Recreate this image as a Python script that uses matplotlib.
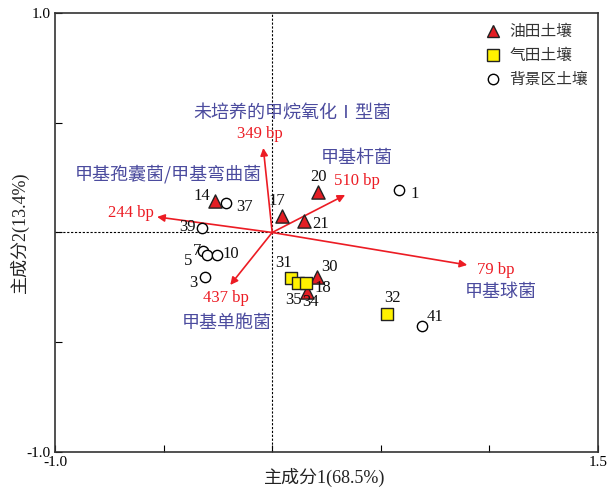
import matplotlib
matplotlib.use('Agg')
import matplotlib.pyplot as plt
from matplotlib.lines import Line2D

plt.rcParams['font.family'] = ['Liberation Serif', 'Noto Sans CJK SC']
plt.rcParams['axes.unicode_minus'] = False

# sample scores (PC1, PC2)
oil_ids = ['14', '17', '20', '21', '30', '34']
oil_x = [-0.262, 0.046, 0.212, 0.147, 0.207, 0.161]
oil_y = [0.144, 0.075, 0.185, 0.052, -0.203, -0.271]

gas_ids = ['31', '35', '18', '32']
gas_x = [0.087, 0.120, 0.157, 0.529]
gas_y = [-0.207, -0.230, -0.230, -0.371]

bg_ids = ['1', '37', '39', '5', '7', '10', '3', '41']
bg_x = [0.585, -0.212, -0.322, -0.318, -0.299, -0.253, -0.308, 0.691]
bg_y = [0.194, 0.134, 0.020, -0.084, -0.103, -0.103, -0.203, -0.426]

# T-RFLP fragment loadings
frag_names = ['349 bp', '244 bp', '510 bp', '79 bp', '437 bp']
frag_x = [-0.041, -0.530, 0.336, 0.898, -0.193]
frag_y = [0.385, 0.071, 0.171, -0.148, -0.239]
frag_taxa = ['未培养的甲烷氧化Ⅰ型菌', '甲基孢囊菌/甲基弯曲菌', '甲基杆菌', '甲基球菌', '甲基单胞菌']

legend_names = ['油田土壤', '气田土壤', '背景区土壤']

# label offsets in pixels (dx, dy)
id_offsets = {
    '14': (-13, 5), '37': (18, -4), '17': (-5, 15), '20': (0, 15), '21': (16, -3),
    '1': (15, -4), '39': (-15, 1), '7': (-10, 4), '5': (-15, -10), '10': (14, 1),
    '3': (-12, -6), '31': (-8, 15), '35': (-5, -17), '18': (17, -5), '30': (12, 10),
    '34': (3, -10), '32': (5, 16), '41': (13, 9),
}
frag_label_offsets = {
    '349 bp': (-3, 14), '244 bp': (-26, 4), '510 bp': (12, 14),
    '79 bp': (28, -5), '437 bp': (-4, -13),
}
taxa_pos = {
    '未培养的甲烷氧化Ⅰ型菌': (0.095, 0.545),
    '甲基孢囊菌/甲基弯曲菌': (-0.48, 0.265),
    '甲基杆菌': (0.39, 0.34),
    '甲基球菌': (1.05, -0.27),
    '甲基单胞菌': (-0.21, -0.41),
}

red = '#ec1c24'
blue = '#4b4b9e'

fig = plt.figure(figsize=(6.15, 4.87), dpi=100)
ax = fig.add_axes([0.0894, 0.0719, 0.883, 0.9014])

ax.axhline(0, color='black', lw=0.8, ls=(0, (2, 1.5)), zorder=1)
ax.axvline(0, color='black', lw=0.8, ls=(0, (2, 1.5)), zorder=1)

for name, fx, fy in zip(frag_names, frag_x, frag_y):
    ax.annotate('', xy=(fx, fy), xytext=(0, 0),
                arrowprops=dict(arrowstyle='-|>', color=red, lw=1.2,
                                mutation_scale=11, shrinkA=0, shrinkB=0), zorder=2)
    dx, dy = frag_label_offsets[name]
    ax.annotate(name, (fx, fy), xytext=(dx, dy), textcoords='offset pixels',
                ha='center', va='center', color=red, fontsize=12)

for taxon in frag_taxa:
    tx, ty = taxa_pos[taxon]
    ax.text(tx, ty, taxon, ha='center', va='center', color=blue, fontsize=13,
            family=['Noto Sans CJK SC', 'DejaVu Sans'], fontweight='light')

ax.scatter(bg_x, bg_y, marker='o', s=55, facecolor='white', edgecolor='black',
           linewidth=1.0, zorder=3)
ax.scatter(oil_x, oil_y, marker='^', s=90, facecolor='#e31e24', edgecolor='#222222',
           linewidth=1.0, zorder=3)
ax.scatter(gas_x, gas_y, marker='s', s=85, facecolor='#fff200', edgecolor='#222222',
           linewidth=1.0, zorder=4)

for ids, xs, ys in [(oil_ids, oil_x, oil_y), (gas_ids, gas_x, gas_y), (bg_ids, bg_x, bg_y)]:
    for sid, px, py in zip(ids, xs, ys):
        dx, dy = id_offsets[sid]
        ax.annotate(sid, (px, py), xytext=(dx, dy), textcoords='offset pixels',
                    ha='center', va='center', fontsize=12, color='#111111', zorder=5)

ax.set_xlim(-1.0, 1.5)
ax.set_ylim(-1.0, 1.0)
ax.set_xticks([-1.0, -0.5, 0, 0.5, 1.0, 1.5])
ax.set_xticklabels(['-1.0', '', '', '', '', '1.5'])
ax.set_yticks([-1.0, -0.5, 0, 0.5, 1.0])
ax.set_yticklabels(['-1.0', '', '', '', '1.0'])
ax.tick_params(direction='in', length=5, width=0.8, labelsize=11, pad=3)
for sp in ax.spines.values():
    sp.set_linewidth(1.2)
    sp.set_color('#333333')

ax.set_xlabel('主成分1(68.5%)', fontsize=13, va='center', color='#222222')
ax.xaxis.set_label_coords(0.497, -0.059)
ax.set_ylabel('主成分2(13.4%)', fontsize=13, va='center', color='#222222')
ax.yaxis.set_label_coords(-0.066, 0.5)

handles = [
    Line2D([], [], marker='^', ls='', ms=9, mfc='#e31e24', mec='#222222'),
    Line2D([], [], marker='s', ls='', ms=9, mfc='#fff200', mec='#222222'),
    Line2D([], [], marker='o', ls='', ms=7.5, mfc='white', mec='black'),
]
leg = ax.legend(handles, legend_names, loc='upper right', frameon=False,
                handlelength=1.0, handletextpad=0.55, labelspacing=0.45,
                borderaxespad=0.25,
                prop={'family': ['Noto Sans CJK SC'], 'size': 11.3, 'weight': 'light'})
for txt in leg.get_texts():
    txt.set_color('#333333')

fig.savefig('out.png', dpi=100)
